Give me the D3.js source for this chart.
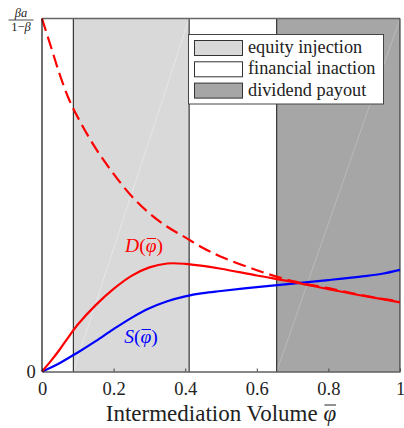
<!DOCTYPE html>
<html>
<head>
<meta charset="utf-8">
<script src="https://cdn.jsdelivr.net/npm/d3@7"></script>
<style>
  html, body { margin: 0; padding: 0; background: #fff; }
  svg { display: block; }
  svg text { font-family: 'Liberation Serif', 'Times New Roman', 'DejaVu Serif', serif; }
</style>
</head>
<body>
<svg id="chart" width="404" height="428"></svg>
<script>
// Intermediation volume grid (normalised, 0..1)
const phi = [0, 0.025, 0.05, 0.075, 0.1, 0.15, 0.2, 0.25, 0.3, 0.35, 0.4, 0.45, 0.5, 0.6, 0.7, 0.8, 0.9, 0.95, 1.0];
// Demand D(phi), in units of beta*a/(1-beta)
const demand = [0, 0.03, 0.063, 0.099, 0.133, 0.188, 0.234, 0.271, 0.295, 0.306, 0.305, 0.299, 0.291, 0.272, 0.254, 0.233, 0.214, 0.205, 0.196];
// Supply S(phi)
const supply = [0, 0.011, 0.024, 0.039, 0.054, 0.086, 0.12, 0.152, 0.179, 0.199, 0.213, 0.222, 0.228, 0.239, 0.249, 0.259, 0.27, 0.277, 0.288];
// Upper bound on demand (dashed)
const demandBound = [1.0, 0.92, 0.84, 0.772, 0.72, 0.632, 0.56, 0.497, 0.448, 0.41, 0.38, 0.35, 0.325, 0.287, 0.256, 0.236, 0.215, 0.206, 0.198];

// Regimes along the x axis
const regimeNames = ["equity injection", "financial inaction", "dividend payout"];
const regimeBreaks = [0, 0.0875, 0.411, 0.6556, 1.0];
const regimeOf = ["financial inaction", "equity injection", "financial inaction", "dividend payout"];
const regimeFill = {"equity injection": "#d9d9d9", "financial inaction": "#ffffff", "dividend payout": "#a6a6a6"};

const xTicks = [0, 0.2, 0.4, 0.6, 0.8, 1];
const xTickLabels = ["0", "0.2", "0.4", "0.6", "0.8", "1"];

const FONT = "'Liberation Serif', 'Times New Roman', 'DejaVu Serif', serif";
const svg = d3.select("#chart");
const m = {left: 42, right: 4, top: 18.5, bottom: 56.5};
const W = 404, H = 428;
const x = d3.scaleLinear().domain([0, 1]).range([m.left, W - m.right]);
const y = d3.scaleLinear().domain([0, 1]).range([H - m.bottom, m.top]);

// Regime bands
const bands = d3.range(regimeOf.length).map(i => ({x0: regimeBreaks[i], x1: regimeBreaks[i + 1], name: regimeOf[i]}));
svg.append("g").selectAll("rect").data(bands).join("rect")
  .attr("x", d => x(d.x0)).attr("y", y(1))
  .attr("width", d => x(d.x1) - x(d.x0)).attr("height", y(0) - y(1))
  .attr("fill", d => regimeFill[d.name]);

// faint diagonal seams in the shaded bands
svg.append("g").selectAll("line").data(bands.filter(d => d.name !== "financial inaction")).join("line")
  .attr("x1", d => x(d.x0)).attr("y1", y(0))
  .attr("x2", d => x(d.x1)).attr("y2", y(1))
  .attr("stroke", d => d.name === "dividend payout" ? "#c2c2c2" : "#ebebeb")
  .attr("stroke-width", 0.7);

// band borders
svg.append("g").selectAll("line").data(regimeBreaks.slice(1, -1)).join("line")
  .attr("x1", d => x(d)).attr("x2", d => x(d))
  .attr("y1", y(0)).attr("y2", y(1))
  .attr("stroke", "#111").attr("stroke-width", 1);

// frame
svg.append("line").attr("x1", x(0)).attr("x2", x(1)).attr("y1", y(1)).attr("y2", y(1))
  .attr("stroke", "#666").attr("stroke-width", 1.5);
svg.append("line").attr("x1", x(1)).attr("x2", x(1)).attr("y1", y(1)).attr("y2", y(0))
  .attr("stroke", "#222").attr("stroke-width", 1);

// Curves
const line = vals => d3.line()
  .x((d, i) => x(phi[i])).y(d => y(d))
  .curve(d3.curveCatmullRom.alpha(0.5))(vals);

svg.append("path").attr("d", line(demandBound))
  .attr("fill", "none").attr("stroke", "#ff0000").attr("stroke-width", 2.2)
  .attr("stroke-dasharray", "13,6");
svg.append("path").attr("d", line(supply))
  .attr("fill", "none").attr("stroke", "#0000ff").attr("stroke-width", 2.2);
svg.append("path").attr("d", line(demand))
  .attr("fill", "none").attr("stroke", "#ff0000").attr("stroke-width", 2.2);

// Axes
const xAxis = d3.axisBottom(x).tickValues(xTicks).tickFormat((d, i) => xTickLabels[i])
  .tickSizeInner(-3).tickSizeOuter(0).tickPadding(10);
const gx = svg.append("g").attr("transform", `translate(0,${y(0)})`).call(xAxis);
gx.attr("font-family", null).attr("font-size", null);
gx.select(".domain").attr("stroke", "#111").attr("stroke-width", 1.2);
gx.selectAll(".tick line").attr("stroke", "#444");
gx.selectAll(".tick text").style("font-family", FONT).attr("font-size", 18.5).attr("fill", "#222");

svg.append("line").attr("x1", x(0)).attr("x2", x(0)).attr("y1", y(0)).attr("y2", y(1))
  .attr("stroke", "#111").attr("stroke-width", 1.2);

svg.append("text").attr("x", 31).attr("y", y(0) + 6.5).attr("text-anchor", "middle")
  .style("font-family", FONT).attr("font-size", 18.5).attr("fill", "#222").text("0");

// top y label: fraction beta a / (1 - beta)
const fr = svg.append("g").attr("fill", "#222").attr("font-size", 12.5);
fr.append("text").attr("x", 21).attr("y", 16.5).attr("text-anchor", "middle")
  .style("font-family", FONT).attr("font-style", "italic").text("βa");
fr.append("line").attr("x1", 8.5).attr("x2", 33.5).attr("y1", 20).attr("y2", 20)
  .attr("stroke", "#222").attr("stroke-width", 0.8);
const den = fr.append("text").attr("x", 21).attr("y", 31).attr("text-anchor", "middle").style("font-family", FONT);
den.append("tspan").text("1−");
den.append("tspan").attr("font-style", "italic").text("β");

// draw an overline above a tspan
function overline(tspan, color, dy) {
  const b = tspan.node().getBBox();
  svg.append("line")
    .attr("x1", b.x + 1).attr("x2", b.x + b.width - 0.5)
    .attr("y1", b.y + dy).attr("y2", b.y + dy)
    .attr("stroke", color).attr("stroke-width", 1);
}

// x-axis title
const xt = svg.append("text").attr("x", 221).attr("y", 421).attr("text-anchor", "middle")
  .style("font-family", FONT).attr("font-size", 23).attr("fill", "#222");
xt.append("tspan").text("Intermediation Volume ");
const xphi = xt.append("tspan").attr("font-style", "italic").text("φ");
overline(xphi, "#222", 4);

// curve labels
const lab = (cx, cy, letter, color) => {
  const t = svg.append("text").attr("x", cx).attr("y", cy).attr("text-anchor", "middle")
    .style("font-family", FONT).attr("font-size", 19.5).attr("fill", color);
  t.append("tspan").attr("font-style", "italic").text(letter);
  t.append("tspan").text("(");
  const p = t.append("tspan").attr("font-style", "italic").text("φ");
  t.append("tspan").text(")");
  overline(p, color, 3.5);
};
lab(144, 252, "D", "#ff0000");
lab(141, 343, "S", "#0000ff");

// Legend
const lg = svg.append("g");
lg.append("rect").attr("x", 188.5).attr("y", 34.5).attr("width", 195).attr("height", 69.5)
  .attr("fill", "#fff").attr("stroke", "#444").attr("stroke-width", 1);
regimeNames.forEach((name, i) => {
  const yy = 40.5 + i * 21.3;
  lg.append("rect").attr("x", 194.5).attr("y", yy).attr("width", 48).attr("height", 15)
    .attr("fill", regimeFill[name]).attr("stroke", "#333").attr("stroke-width", 1);
  lg.append("text").attr("x", 248).attr("y", yy + 12.5)
    .style("font-family", FONT).attr("font-size", 18.3)
    .attr("fill", "#222").text(name);
});
</script>
</body>
</html>
